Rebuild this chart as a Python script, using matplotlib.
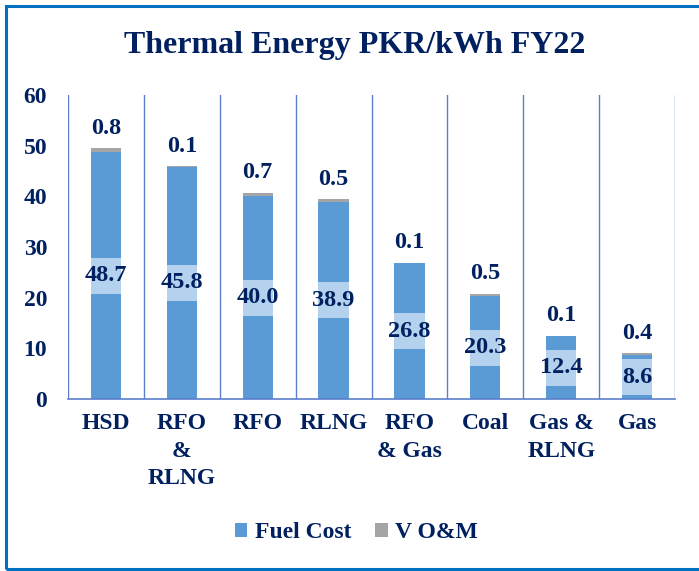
import matplotlib
matplotlib.use("Agg")
import matplotlib.pyplot as plt
from matplotlib.patches import Rectangle, Patch
import numpy as np

categories = ["HSD", "RFO\n&\nRLNG", "RFO", "RLNG", "RFO\n& Gas", "Coal", "Gas &\nRLNG", "Gas"]
fuel_cost = [48.7, 45.8, 40.0, 38.9, 26.8, 20.3, 12.4, 8.6]
v_om = [0.8, 0.1, 0.7, 0.5, 0.1, 0.5, 0.1, 0.4]
yticks = [0, 10, 20, 30, 40, 50, 60]

NAVY = "#002060"
BLUE = "#5B9BD5"
GRAY = "#A5A5A5"
LINE = "#5B7FCC"
BOXC = "#B4D2EE"

plt.rcParams['font.family'] = ['Liberation Serif', 'DejaVu Serif']
plt.rcParams['font.weight'] = 'bold'

fig = plt.figure(figsize=(6.99, 5.71), dpi=100)
W, H = 699, 571
ax = fig.add_axes([68 / W, 1 - 399 / H, (675 - 68) / W, (399 - 95) / H])

x = np.arange(len(categories))
bw = 0.4
ax.bar(x, fuel_cost, width=bw, color=BLUE, zorder=2, label="Fuel Cost")
ax.bar(x, v_om, width=bw, bottom=fuel_cost, color=GRAY, zorder=2, label="V O&M")

# label boxes and labels for fuel cost
box_h = 7.1
for xi, v in zip(x, fuel_cost):
    ax.add_patch(Rectangle((xi - bw / 2, v / 2 - box_h / 2), bw, box_h,
                           facecolor=BOXC, edgecolor='none', zorder=3))
    ax.text(xi, v / 2, f"{v:.1f}", ha='center', va='center', color=NAVY,
            fontsize=17.5, fontweight='bold', zorder=4)

for xi, f, o in zip(x, fuel_cost, v_om):
    ax.annotate(f"{o:.1f}", (xi, f + o), xytext=(0, 14.5), textcoords='offset points',
                ha='center', va='center', color=NAVY, fontsize=17.5, fontweight='bold')

ax.set_xlim(-0.5, len(categories) - 0.5)
ax.set_ylim(0, 60)
ax.set_yticks(yticks)
ax.set_yticklabels([str(t) for t in yticks], color=NAVY, fontsize=17, fontweight='bold')
ax.tick_params(axis='y', length=0, pad=15)
ax.set_xticks(x)
ax.set_xticklabels(categories, color=NAVY, fontsize=17, fontweight='bold', linespacing=1.42, va='top')
ax.tick_params(axis='x', length=0, pad=10)

for s in ['top', 'right', 'left']:
    ax.spines[s].set_visible(False)
ax.spines['bottom'].set_color(LINE)
ax.spines['bottom'].set_linewidth(1.2)

for b in np.arange(-0.5, len(categories), 1.0):
    ax.axvline(b, color=LINE, lw=1.0, zorder=1)

fig.text(355 / W, 1 - 46 / H, "Thermal Energy PKR/kWh FY22", ha='center', va='center',
         color=NAVY, fontsize=23, fontweight='bold')

handles = [Patch(facecolor=BLUE), Patch(facecolor=GRAY)]
leg = fig.legend(handles, ["Fuel Cost", "V O&M"], loc='center', bbox_to_anchor=(356 / W, 1 - 533 / H),
                 ncol=2, frameon=False, handlelength=0.55, handleheight=0.55, handletextpad=0.3,
                 columnspacing=1.0, prop={'size': 17, 'weight': 'bold'})
for t in leg.get_texts():
    t.set_color(NAVY)

# outer border (right edge lies beyond the image)
fig.patches.append(Rectangle((5.5 / W, 2 / H), 720 / W, 563 / H, transform=fig.transFigure,
                             fill=False, edgecolor="#0070C0", lw=2.2))

fig.savefig("out.png", dpi=100)
